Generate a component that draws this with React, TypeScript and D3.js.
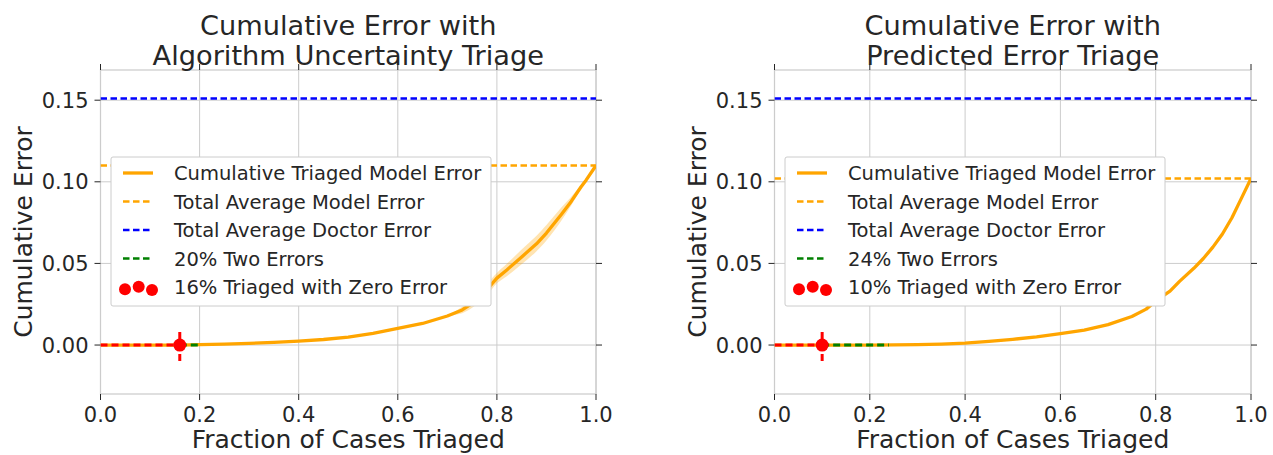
import React from "react";
import * as d3 from "d3";

// ---------- data ----------
const xTicks = [0, 0.2, 0.4, 0.6, 0.8, 1.0];
const yTicks = [0, 0.05, 0.1, 0.15];

const leftFrac = [0, 0.16, 0.2, 0.25, 0.3, 0.35, 0.4, 0.45, 0.5, 0.55, 0.6, 0.65, 0.7, 0.73, 0.75, 0.78, 0.8, 0.82, 0.85, 0.88, 0.9, 0.93, 0.95, 0.97, 0.98, 1.0];
const leftErr = [0, 0, 0.0002, 0.0006, 0.001, 0.0016, 0.0024, 0.0034, 0.0048, 0.0072, 0.0102, 0.0132, 0.0178, 0.0215, 0.0255, 0.034, 0.041, 0.046, 0.054, 0.062, 0.0686, 0.080, 0.088, 0.097, 0.101, 0.11];
const leftBandFrac = [0.7, 0.73, 0.75, 0.78, 0.8, 0.82, 0.85, 0.88, 0.9, 0.93, 0.95, 0.97, 0.99];
const leftBandLow = [0.0178, 0.0195, 0.0228, 0.0305, 0.0378, 0.0422, 0.0495, 0.0575, 0.0640, 0.0762, 0.0855, 0.0958, 0.1055];
const leftBandHigh = [0.0178, 0.0235, 0.0282, 0.0375, 0.0442, 0.0498, 0.0585, 0.0670, 0.0735, 0.0842, 0.0908, 0.0982, 0.1055];

const rightFrac = [0, 0.1, 0.2, 0.25, 0.3, 0.35, 0.4, 0.45, 0.5, 0.55, 0.6, 0.65, 0.7, 0.75, 0.78, 0.8, 0.83, 0.85, 0.88, 0.9, 0.92, 0.94, 0.96, 0.98, 1.0];
const rightErr = [0, 0, 0, 0.0001, 0.0003, 0.0006, 0.0012, 0.0022, 0.0035, 0.005, 0.007, 0.0092, 0.0125, 0.0175, 0.022, 0.027, 0.033, 0.039, 0.047, 0.053, 0.060, 0.068, 0.078, 0.090, 0.102];

const titles = [
  ["Cumulative Error with", "Algorithm Uncertainty Triage"],
  ["Cumulative Error with", "Predicted Error Triage"],
];
const avgModelError = [0.110, 0.102];
const avgDoctorError = [0.151, 0.151];
const zeroErrorFrac = [0.16, 0.10];
const twoErrorFrac = [0.20, 0.24];
const legendLabels = [
  ["Cumulative Triaged Model Error", "Total Average Model Error", "Total Average Doctor Error", "20% Two Errors", "16% Triaged with Zero Error"],
  ["Cumulative Triaged Model Error", "Total Average Model Error", "Total Average Doctor Error", "24% Two Errors", "10% Triaged with Zero Error"],
];

// ---------- style ----------
const FONT = "DejaVu Sans, sans-serif";
const TXT = "#262626";
const GRID = "#cccccc";
const ORANGE = "#FFA500";

type PanelProps = {
  idx: number;
  x0: number;
  x1: number;
  frac: number[];
  err: number[];
  band?: { f: number[]; lo: number[]; hi: number[] };
};

function Panel({ idx, x0, x1, frac, err, band }: PanelProps) {
  const top = 70;
  const bottom = 394;
  const x = d3.scaleLinear().domain([0, 1]).range([x0, x1]);
  const y = d3.scaleLinear().domain([-0.03, 0.1685]).range([bottom, top]);
  const pts = frac.map((f, i) => [f, err[i]] as [number, number]);
  const line = d3.line<[number, number]>().x((d) => x(d[0])).y((d) => y(d[1]));
  let bandPath: string | null = null;
  if (band) {
    const area = d3
      .area<number>()
      .x((_, i) => x(band.f[i]))
      .y0((_, i) => y(band.lo[i]))
      .y1((_, i) => y(band.hi[i]))
      .curve(d3.curveCatmullRom);
    bandPath = area(band.f.map((_, i) => i)) as string;
  }
  const cx = (x0 + x1) / 2;
  const clipId = `clip${idx}`;
  const legX = x0 + 10.5;
  const legY = 157;
  const legW = 380;
  const legH = 149;
  const rowY = (i: number) => 173 + i * 28.5;
  const hx0 = legX + 12;
  const hx1 = legX + 42;
  const tx = legX + 63;
  const labels = legendLabels[idx];
  const zf = zeroErrorFrac[idx];
  return (
    <g>
      <defs>
        <clipPath id={clipId}>
          <rect x={x0} y={top} width={x1 - x0} height={bottom - top} />
        </clipPath>
      </defs>
      {/* grid */}
      {xTicks.map((t) => (
        <line key={"gx" + t} x1={x(t)} x2={x(t)} y1={top} y2={bottom} stroke={GRID} strokeWidth={1} />
      ))}
      {yTicks.map((t) => (
        <line key={"gy" + t} x1={x0} x2={x1} y1={y(t)} y2={y(t)} stroke={GRID} strokeWidth={1} />
      ))}
      {/* frame */}
      <rect x={x0} y={top} width={x1 - x0} height={bottom - top} fill="none" stroke={GRID} strokeWidth={1.25} />
      {/* ticks */}
      {xTicks.map((t) => (
        <g key={"tx" + t}>
          <line x1={x(t)} x2={x(t)} y1={bottom} y2={bottom + 6} stroke={TXT} strokeWidth={1} />
          <line x1={x(t)} x2={x(t)} y1={top} y2={top - 6} stroke={TXT} strokeWidth={1} />
          <text x={x(t)} y={422} textAnchor="middle" fontSize={21} fill={TXT} fontFamily={FONT}>
            {t.toFixed(1)}
          </text>
        </g>
      ))}
      {yTicks.map((t) => (
        <g key={"ty" + t}>
          <line x1={x0 - 6} x2={x0} y1={y(t)} y2={y(t)} stroke={TXT} strokeWidth={1} />
          <line x1={x1} x2={x1 + 6} y1={y(t)} y2={y(t)} stroke={TXT} strokeWidth={1} />
          <text x={x0 - 12} y={y(t) + 7.5} textAnchor="end" fontSize={21} fill={TXT} fontFamily={FONT}>
            {t.toFixed(2)}
          </text>
        </g>
      ))}
      <g clipPath={`url(#${clipId})`}>
        {/* model avg */}
        <line x1={x(0)} x2={x(1)} y1={y(avgModelError[idx])} y2={y(avgModelError[idx])} stroke={ORANGE} strokeWidth={2.5} strokeDasharray="6.5,3.5" />
        {/* doctor avg */}
        <line x1={x(0)} x2={x(1)} y1={y(avgDoctorError[idx])} y2={y(avgDoctorError[idx])} stroke="#0000FF" strokeWidth={2.5} strokeDasharray="6.5,3.5" />
        {bandPath && <path d={bandPath} fill={ORANGE} fillOpacity={0.3} stroke="none" />}
        <path d={line(pts) as string} fill="none" stroke={ORANGE} strokeWidth={3.3} strokeLinejoin="round" />
        {/* two errors */}
        <line x1={x(zf)} x2={x(twoErrorFrac[idx])} y1={y(0)} y2={y(0)} stroke="#008000" strokeWidth={3} strokeDasharray="7,4" />
        {/* zero error */}
        <line x1={x(0)} x2={x(zf)} y1={y(0)} y2={y(0)} stroke="#FF0000" strokeWidth={3} strokeDasharray="7,4" />
        <line x1={x(zf)} x2={x(zf)} y1={y(0.008)} y2={y(-0.0105)} stroke="#FF0000" strokeWidth={3} strokeDasharray="7,4" />
        <circle cx={x(zf)} cy={y(0)} r={6.5} fill="#FF0000" />
      </g>
      {/* legend */}
      <rect x={legX} y={legY} width={legW} height={legH} rx={2} fill="#ffffff" stroke={GRID} strokeWidth={1} />
      <line x1={hx0} x2={hx1} y1={rowY(0)} y2={rowY(0)} stroke={ORANGE} strokeWidth={3.3} />
      <line x1={hx0} x2={hx1} y1={rowY(1)} y2={rowY(1)} stroke={ORANGE} strokeWidth={2.5} strokeDasharray="6.5,3.5" />
      <line x1={hx0} x2={hx1} y1={rowY(2)} y2={rowY(2)} stroke="#0000FF" strokeWidth={2.5} strokeDasharray="6.5,3.5" />
      <line x1={hx0} x2={hx1} y1={rowY(3)} y2={rowY(3)} stroke="#008000" strokeWidth={2.5} strokeDasharray="6.5,3.5" />
      <circle cx={hx0 + 2} cy={rowY(4) + 2.3} r={6} fill="#FF0000" />
      <circle cx={hx0 + 15.7} cy={rowY(4) - 0.3} r={6} fill="#FF0000" />
      <circle cx={hx0 + 29} cy={rowY(4) + 3} r={6} fill="#FF0000" />
      {labels.map((l, i) => (
        <text key={l} x={tx} y={rowY(i) + 7} fontSize={19.5} fill={TXT} fontFamily={FONT}>
          {l}
        </text>
      ))}
      {/* titles */}
      <text x={cx} y={34.5} textAnchor="middle" fontSize={27.2} fill={TXT} fontFamily={FONT}>
        {titles[idx][0]}
      </text>
      <text x={cx} y={64.5} textAnchor="middle" fontSize={27.2} fill={TXT} fontFamily={FONT}>
        {titles[idx][1]}
      </text>
      {/* axis labels */}
      <text x={cx} y={448} textAnchor="middle" fontSize={25} fill={TXT} fontFamily={FONT}>
        Fraction of Cases Triaged
      </text>
      <text
        transform={`translate(${x0 - 68.5},${(top + bottom) / 2}) rotate(-90)`}
        textAnchor="middle"
        fontSize={25}
        fill={TXT}
        fontFamily={FONT}
      >
        Cumulative Error
      </text>
    </g>
  );
}

export default function App() {
  return (
    <svg
      width={1273}
      height={455}
      style={{ position: "absolute", left: 0, top: 0, background: "#ffffff" }}
    >
      <rect x={0} y={0} width={1273} height={455} fill="#ffffff" />
      <Panel
        idx={0}
        x0={100.5}
        x1={596}
        frac={leftFrac}
        err={leftErr}
        band={{ f: leftBandFrac, lo: leftBandLow, hi: leftBandHigh }}
      />
      <Panel idx={1} x0={774.5} x1={1251} frac={rightFrac} err={rightErr} />
    </svg>
  );
}
